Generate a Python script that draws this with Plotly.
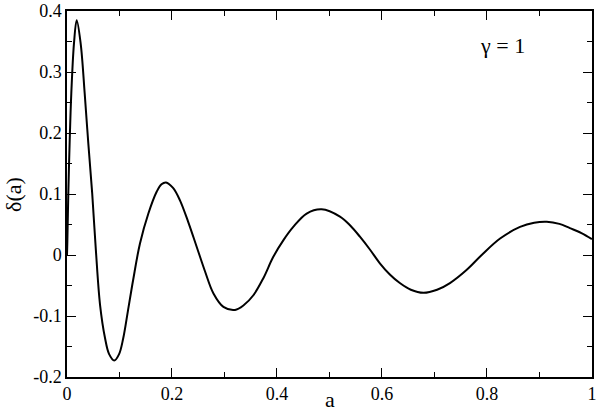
import plotly.graph_objects as go

a_vals = [0.0, 0.0006, 0.0025, 0.005, 0.0082, 0.0133, 0.0185, 0.026, 0.0337, 0.0406,
          0.048, 0.055, 0.063, 0.0724, 0.080, 0.090, 0.099, 0.107, 0.116, 0.126,
          0.139, 0.155, 0.171, 0.180, 0.1886, 0.202, 0.215, 0.231, 0.247, 0.263, 0.279,
          0.298, 0.32, 0.337, 0.355, 0.374, 0.393, 0.412, 0.431, 0.4565, 0.485,
          0.52, 0.54, 0.558, 0.577, 0.596, 0.615, 0.634, 0.655, 0.679, 0.705,
          0.7295, 0.761, 0.79, 0.825, 0.863, 0.89, 0.914, 0.938, 0.958, 0.98, 1.0]
delta_vals = [0.0, 0.019, 0.101, 0.183, 0.265, 0.347, 0.385, 0.347, 0.265, 0.183,
              0.101, 0.008, -0.082, -0.136, -0.162, -0.173, -0.163, -0.137, -0.092, -0.041,
              0.019, 0.068, 0.104, 0.116, 0.119, 0.110, 0.090, 0.054, 0.0136, -0.027, -0.063,
              -0.085, -0.090, -0.082, -0.066, -0.038, -0.003, 0.024, 0.046, 0.068, 0.075,
              0.063, 0.048, 0.030, 0.009, -0.0136, -0.032, -0.046, -0.057, -0.062, -0.057,
              -0.046, -0.0246, 0.0, 0.027, 0.046, 0.053, 0.0546, 0.051, 0.044, 0.036, 0.026]

x_ticks = [0, 0.2, 0.4, 0.6, 0.8, 1.0]
x_ticktext = ["0", "0.2", "0.4", "0.6", "0.8", "1"]
y_ticks = [-0.2, -0.1, 0, 0.1, 0.2, 0.3, 0.4]
y_ticktext = ["-0.2", "-0.1", "0", "0.1", "0.2", "0.3", "0.4"]

font_family = "Liberation Serif, DejaVu Serif, serif"

fig = go.Figure()
fig.add_trace(go.Scatter(x=a_vals, y=delta_vals, mode="lines",
                         line=dict(color="black", width=2, shape="spline", smoothing=1.0),
                         showlegend=False, hoverinfo="skip"))

axis_common = dict(showgrid=False, zeroline=False, showline=True, linecolor="black",
                   linewidth=1.5, mirror="allticks", ticks="inside", ticklen=9,
                   tickwidth=1, tickcolor="black", automargin=False)

fig.update_xaxes(range=[0, 1.0001], tickvals=x_ticks, ticktext=x_ticktext,
                 tickfont=dict(family=font_family, size=18, color="black"),
                 minor=dict(dtick=0.1, tick0=0, ticks="inside", ticklen=5, tickcolor="black", tickwidth=1),
                 **axis_common)
fig.update_yaxes(range=[-0.2, 0.4], tickvals=y_ticks, ticktext=y_ticktext,
                 tickfont=dict(family=font_family, size=18, color="black"),
                 minor=dict(dtick=0.05, tick0=0, ticks="inside", ticklen=5, tickcolor="black", tickwidth=1),
                 **axis_common)

fig.add_annotation(x=0.5, y=-0.100, xref="paper", yref="paper", text="a", showarrow=False,
                   xanchor="center", yanchor="bottom",
                   font=dict(family=font_family, size=22, color="black"))
fig.add_annotation(x=-0.103, y=0.5, xref="paper", yref="paper", text="δ(a)", showarrow=False,
                   textangle=-90, xanchor="center", yanchor="middle",
                   font=dict(family=font_family, size=22, color="black"))
fig.add_annotation(x=0.829, y=0.343, xref="x", yref="y", text="γ = 1", showarrow=False,
                   font=dict(family=font_family, size=22, color="black"))

fig.update_layout(width=600, height=415, margin=dict(l=67, r=8, t=11, b=38),
                  plot_bgcolor="white", paper_bgcolor="white",
                  font=dict(family=font_family, color="black"))

fig.write_html("out.html", config={"displayModeBar": False},
               post_script="document.body.style.margin='0px';document.body.style.overflow='hidden';")
